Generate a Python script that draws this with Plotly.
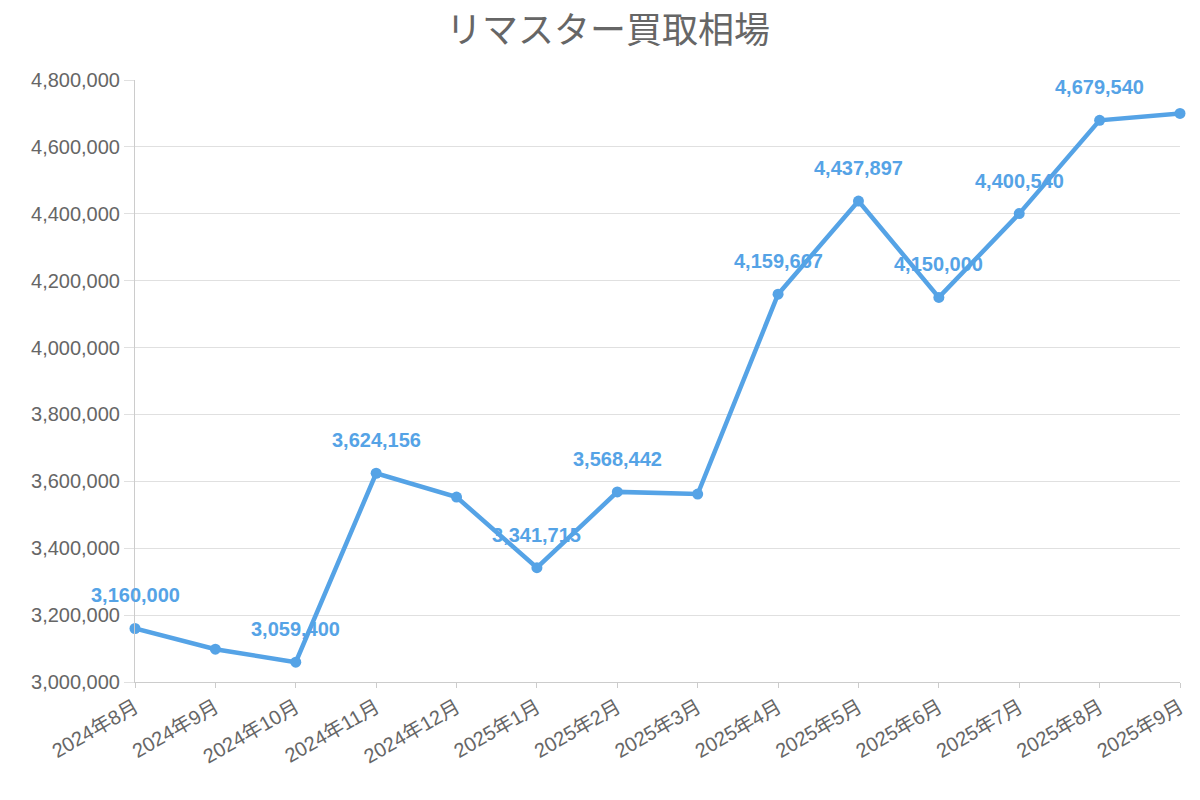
import plotly.graph_objects as go

months = ["2024年8月","2024年9月","2024年10月","2024年11月","2024年12月","2025年1月","2025年2月",
          "2025年3月","2025年4月","2025年5月","2025年6月","2025年7月","2025年8月","2025年9月"]
prices = [3160000, 3098000, 3059400, 3624156, 3553000, 3341715, 3568442,
          3562000, 4159667, 4437897, 4150000, 4400540, 4679540, 4700000]
show_label = [True, False, True, True, False, True, True, False, True, True, True, True, True, False]

color = "#55a3e6"
xs = list(range(len(months)))

fig = go.Figure(go.Scatter(
    x=xs, y=prices, mode="lines+markers",
    line=dict(color=color, width=4.5), marker=dict(color=color, size=11),
    cliponaxis=False,
))
for x, v, s in zip(xs, prices, show_label):
    if s:
        fig.add_annotation(x=x, y=v, text=f"<b>{v:,}</b>", showarrow=False, yshift=33,
                           font=dict(color=color, size=20, family="Liberation Sans, Arial"))
fig.update_layout(
    width=1200, height=800, plot_bgcolor="white", paper_bgcolor="white",
    margin=dict(l=127, r=28, t=72, b=126),
    title=dict(text="リマスター買取相場", x=0.5, xanchor="center", y=0.972, yanchor="middle",
               font=dict(size=36, color="#666", family="Noto Sans CJK JP")),
    font=dict(family="Liberation Sans, Noto Sans CJK JP", color="#666"),
    showlegend=False,
)
fig.update_xaxes(tickmode="array", tickvals=xs, ticktext=months,
                 range=[0, len(months) - 1], tickangle=-30, showgrid=False,
                 showline=True, linecolor="#ccc", ticks="outside", tickcolor="#ccc",
                 tickfont=dict(size=20, color="#666", family="Liberation Sans, Noto Sans CJK JP"))
fig.update_yaxes(range=[3000000, 4800000], dtick=200000, tickformat=",d",
                 gridcolor="#e0e0e0", showline=True, linecolor="#ccc", zeroline=False,
                 ticks="outside", tickcolor="#e0e0e0", ticklen=10,
                 tickfont=dict(size=20, color="#666"))
fig.write_html("out.html")
